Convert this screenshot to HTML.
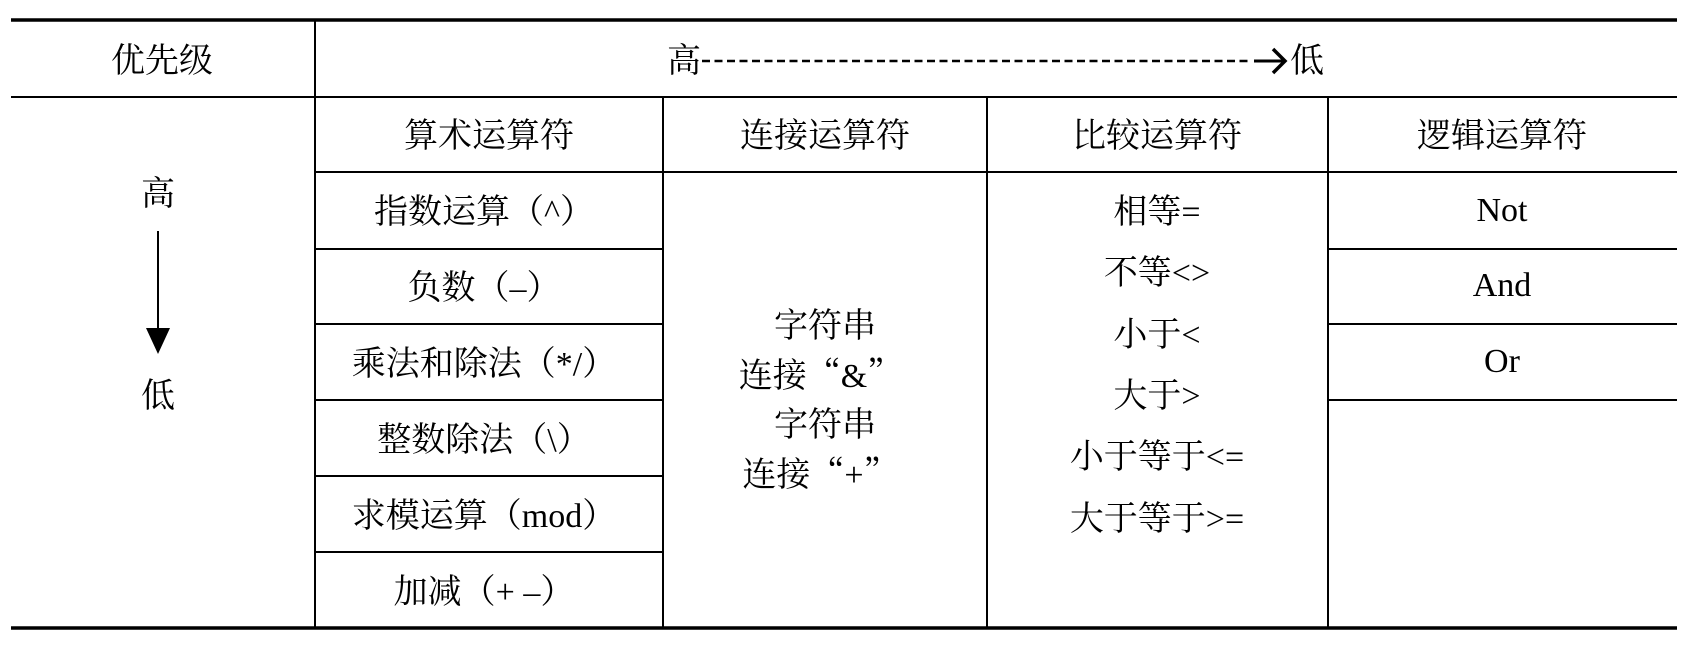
<!DOCTYPE html>
<html><head><meta charset="utf-8"><style>
html,body{margin:0;padding:0;background:#fff;}
svg{display:block;}
text{font-family:"Liberation Serif","Noto Serif CJK SC",serif;font-size:34px;fill:#000;}
.q{font-family:"Noto Serif CJK SC",serif;}
</style></head><body>
<svg width="1688" height="650" viewBox="0 0 1688 650">
<g stroke="#000" fill="none">
<line x1="11" y1="20" x2="1677" y2="20" stroke-width="3.5"/>
<line x1="11" y1="628" x2="1677" y2="628" stroke-width="3.5"/>
<line x1="11" y1="97" x2="1677" y2="97" stroke-width="2"/>
<line x1="315" y1="20" x2="315" y2="628" stroke-width="2"/>
<line x1="663" y1="97" x2="663" y2="628" stroke-width="2"/>
<line x1="987" y1="97" x2="987" y2="628" stroke-width="2"/>
<line x1="1328" y1="97" x2="1328" y2="628" stroke-width="2"/>
<line x1="315" y1="172" x2="1677" y2="172" stroke-width="2"/>
<line x1="315" y1="249" x2="663" y2="249" stroke-width="2"/>
<line x1="315" y1="324" x2="663" y2="324" stroke-width="2"/>
<line x1="315" y1="400" x2="663" y2="400" stroke-width="2"/>
<line x1="315" y1="476" x2="663" y2="476" stroke-width="2"/>
<line x1="315" y1="552" x2="663" y2="552" stroke-width="2"/>
<line x1="1328" y1="249" x2="1677" y2="249" stroke-width="2"/>
<line x1="1328" y1="324" x2="1677" y2="324" stroke-width="2"/>
<line x1="1328" y1="400" x2="1677" y2="400" stroke-width="2"/>
<line x1="702" y1="61" x2="1251" y2="61" stroke-width="2.5" stroke-dasharray="8,4.5"/>
<line x1="1254" y1="61" x2="1284" y2="61" stroke-width="3"/>
<polyline points="1273,49 1285,61 1273,73" stroke-width="3.5"/>
<line x1="158" y1="231" x2="158" y2="330" stroke-width="2"/>
</g>
<polygon points="146,328 170,328 158,354" fill="#000"/>
<g text-anchor="middle">
<text x="162" y="72">优先级</text>
<text x="684" y="72">高</text>
<text x="1307" y="72">低</text>
<text x="489" y="147">算术运算符</text>
<text x="825" y="147">连接运算符</text>
<text x="1157" y="147">比较运算符</text>
<text x="1502" y="147">逻辑运算符</text>
<text x="158" y="205">高</text>
<text x="158" y="407">低</text>
<text x="484" y="223">指数运算（^）</text>
<text x="484" y="299">负数（–）</text>
<text x="484" y="375">乘法和除法（*/）</text>
<text x="484" y="451">整数除法（\）</text>
<text x="484" y="527">求模运算（mod）</text>
<text x="484" y="603">加减（+ –）</text>
<text x="825" y="337">字符串</text>
<text x="820" y="387">连接<tspan class="q">“</tspan>&amp;<tspan class="q">”</tspan></text>
<text x="825" y="436">字符串</text>
<text x="820" y="486">连接<tspan class="q">“</tspan>+<tspan class="q">”</tspan></text>
<text x="1157" y="223">相等=</text>
<text x="1157" y="284">不等&lt;&gt;</text>
<text x="1157" y="346">小于&lt;</text>
<text x="1157" y="407">大于&gt;</text>
<text x="1157" y="468">小于等于&lt;=</text>
<text x="1157" y="530">大于等于&gt;=</text>
<text x="1502" y="221">Not</text>
<text x="1502" y="296">And</text>
<text x="1502" y="372">Or</text>
</g>
</svg>
</body></html>
